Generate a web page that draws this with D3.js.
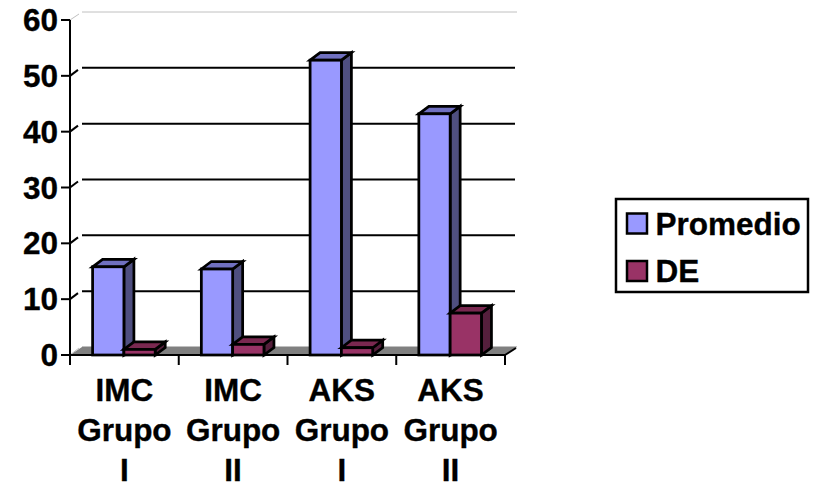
<!DOCTYPE html>
<html>
<head>
<meta charset="utf-8">
<script src="https://cdnjs.cloudflare.com/ajax/libs/d3/7.8.5/d3.min.js"></script>
<style>
html,body{margin:0;padding:0;background:#fff;overflow:hidden}
svg{display:block}
text{font-family:"Liberation Sans",Arial,sans-serif;font-weight:bold;fill:#000;stroke:#000;stroke-width:0.35px}
</style>
</head>
<body>
<svg id="chart" width="829" height="485"></svg>
<script>
// Chart data
const categories = [["IMC","Grupo","I"],["IMC","Grupo","II"],["AKS","Grupo","I"],["AKS","Grupo","II"]];
const promedio = [15.8, 15.4, 52.8, 43.2];
const de = [1.0, 1.9, 1.3, 7.5];
const seriesNames = ["Promedio","DE"];
const yTicks = [0,10,20,30,40,50,60];

// Series palette: front, top and side faces of each 3-D bar
const faces = [
  {front:"#9999ff", top:"#7070c0", side:"#4f4f80"},
  {front:"#993366", top:"#7a2850", side:"#551f3c"}
];

const svg = d3.select("#chart");
const plotLeft = 70, plotRight = 505, plotBottom = 355, plotTop = 20;
const depthX = 12, depthY = 8;      // oblique offset of the back wall
const barDX = 10, barDY = 7.5;      // oblique offset of a bar's depth
const fontSize = 31.5;

const y = d3.scaleLinear().domain([0,60]).range([plotBottom, plotTop]);
const x = d3.scaleBand().domain(d3.range(categories.length)).range([plotLeft, plotRight]);
const barW = 31.3;
const inner = d3.scaleBand().domain([0,1]).range([0, barW*2]);
const barOffset = 22.6;

// Floor of the plot
svg.append("polygon")
  .attr("points",[[plotLeft,plotBottom],[plotLeft+depthX,plotBottom-depthY],[plotRight+depthX,plotBottom-depthY],[plotRight,plotBottom]].join(" "))
  .attr("fill","#808080");
svg.append("line").attr("x1",plotLeft+depthX).attr("x2",plotRight+depthX)
  .attr("y1",plotBottom-depthY-0.5).attr("y2",plotBottom-depthY-0.5)
  .attr("stroke","#c0c0c0").attr("stroke-width",1);

// Back-wall gridlines and the short diagonals joining them to the axis
yTicks.slice(1).forEach(t => {
  const isTop = t === 60;
  const col = isTop ? "#c0c0c0" : "#000";
  const sw = isTop ? 1 : 2;
  svg.append("line").attr("x1",plotLeft+depthX).attr("x2",plotRight+depthX-(isTop?0:2))
    .attr("y1",y(t)-depthY).attr("y2",y(t)-depthY)
    .attr("stroke",col).attr("stroke-width",sw);
  svg.append("line").attr("x1",plotLeft).attr("y1",y(t))
    .attr("x2",plotLeft+(isTop?9:8)).attr("y2",y(t)-6)
    .attr("stroke",col).attr("stroke-width",sw);
});
svg.append("line").attr("x1",plotLeft).attr("y1",plotBottom)
  .attr("x2",plotLeft+9).attr("y2",plotBottom-7).attr("stroke","#c0c0c0").attr("stroke-width",1);

// Draws one oblique bar: side, top, then front face
function bar(x0, value, face) {
  const x1 = x0 + barW, y0 = y(value), yb = y(0);
  const g = svg.append("g").attr("stroke","#000").attr("stroke-width",2.75).attr("stroke-linejoin","miter");
  g.append("polygon").attr("fill",face.side)
    .attr("points",[[x1,y0],[x1+barDX,y0-barDY],[x1+barDX,yb-barDY],[x1,yb]].join(" "));
  g.append("polygon").attr("fill",face.top)
    .attr("points",[[x0,y0],[x0+barDX,y0-barDY],[x1+barDX,y0-barDY],[x1,y0]].join(" "));
  g.append("rect").attr("x",x0).attr("y",y0).attr("width",barW).attr("height",yb-y0).attr("fill",face.front);
}
categories.forEach((c,i) => {
  const x0 = x(i) + barOffset;
  bar(x0 + inner(0), promedio[i], faces[0]);
  bar(x0 + inner(1), de[i], faces[1]);
});

// Value axis
svg.append("line").attr("x1",plotLeft).attr("x2",plotLeft).attr("y1",plotTop).attr("y2",plotBottom+10)
  .attr("stroke","#000").attr("stroke-width",2);
svg.selectAll(".ytick").data(yTicks).join("line").attr("class","ytick")
  .attr("x1",plotLeft-9).attr("x2",plotLeft).attr("y1",d=>y(d)).attr("y2",d=>y(d))
  .attr("stroke","#000").attr("stroke-width",2);
svg.selectAll(".ylab").data(yTicks).join("text").attr("class","ylab")
  .attr("x",plotLeft-12).attr("y",d=>y(d)+11).attr("text-anchor","end")
  .attr("font-size",fontSize).text(d=>d);

// Category axis
svg.append("line").attr("x1",plotLeft-9).attr("x2",plotRight).attr("y1",plotBottom).attr("y2",plotBottom)
  .attr("stroke","#000").attr("stroke-width",2);
svg.selectAll(".xtick").data(d3.range(categories.length+1)).join("line").attr("class","xtick")
  .attr("x1",d=>plotLeft+d*x.step()).attr("x2",d=>plotLeft+d*x.step())
  .attr("y1",plotBottom).attr("y2",plotBottom+10)
  .attr("stroke","#000").attr("stroke-width",2);
svg.append("line").attr("x1",plotRight).attr("y1",plotBottom).attr("x2",plotRight+11).attr("y2",plotBottom-7)
  .attr("stroke","#000").attr("stroke-width",2);

categories.forEach((c,i) => {
  const t = svg.append("text").attr("text-anchor","middle").attr("font-size",fontSize);
  c.forEach((line,k) => t.append("tspan")
    .attr("x",x(i)+x.bandwidth()/2).attr("y",401+k*40).text(line));
});

// Legend
svg.append("rect").attr("x",616).attr("y",199).attr("width",192).attr("height",93)
  .attr("fill","#fff").attr("stroke","#000").attr("stroke-width",2.5);
seriesNames.forEach((n,i) => {
  const cy = 223.5 + i*47.5;
  svg.append("rect").attr("x",627).attr("y",cy-10).attr("width",20).attr("height",20)
    .attr("fill",faces[i].front).attr("stroke","#000").attr("stroke-width",2.5);
  svg.append("text").attr("x",655.5).attr("y",cy+11.3).attr("font-size",fontSize).text(n);
});
</script>
</body>
</html>
